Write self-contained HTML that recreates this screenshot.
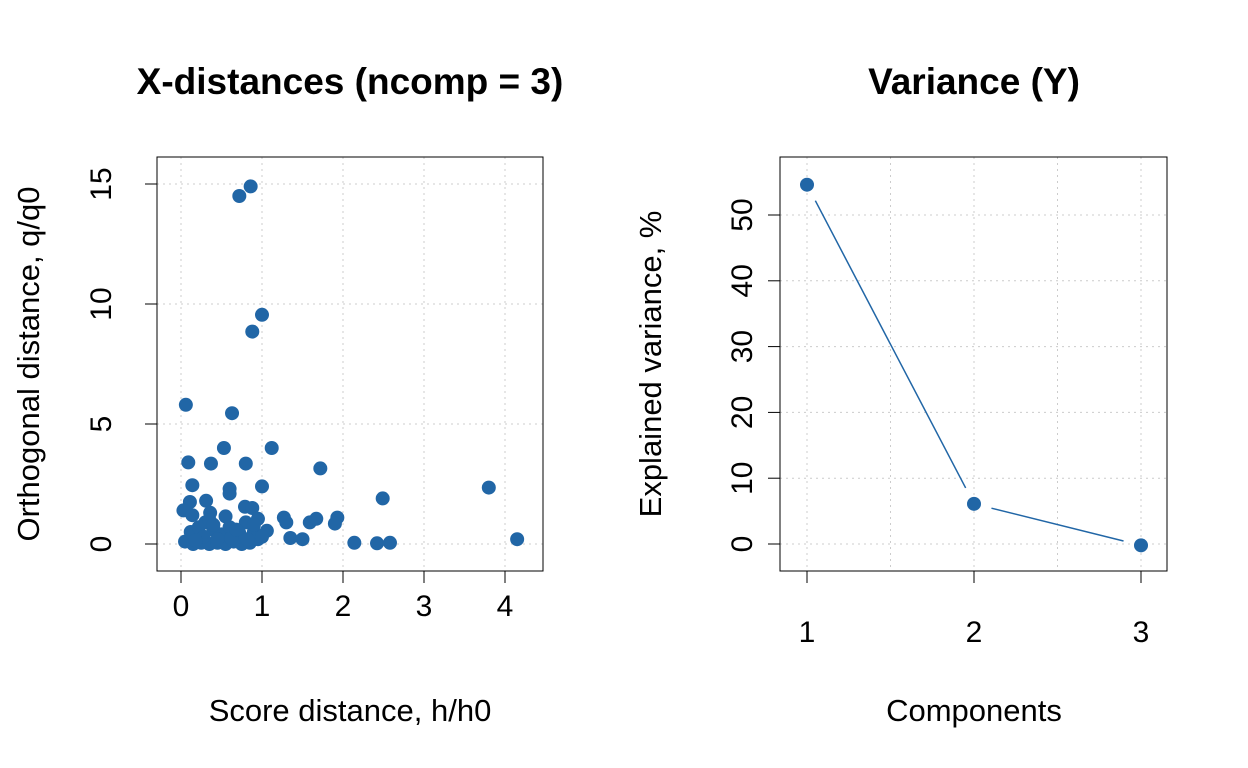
<!DOCTYPE html>
<html><head><meta charset="utf-8"><style>
html,body{margin:0;padding:0;background:#fff}
svg{display:block;font-family:"Liberation Sans",Arial,sans-serif}
</style></head><body>
<svg id="c" width="1248" height="768" xmlns="http://www.w3.org/2000/svg">
<text x="350" y="94" font-size="37" font-weight="bold" text-anchor="middle">X-distances (ncomp = 3)</text>
<text x="974" y="94" font-size="37" font-weight="bold" text-anchor="middle">Variance (Y)</text>
<text x="350" y="721" font-size="31" text-anchor="middle">Score distance, h/h0</text>
<text x="974" y="721" font-size="31" text-anchor="middle">Components</text>
<text transform="translate(39,364) rotate(-90)" font-size="31" text-anchor="middle">Orthogonal distance, q/q0</text>
<text transform="translate(661,364) rotate(-90)" font-size="31" text-anchor="middle">Explained variance, %</text>
<g id="L"></g>
<g id="R"></g>
</svg>
<script>
const scatterX=[0.72,0.86,1.0,0.88,0.06,0.63,0.53,1.12,0.09,0.37,0.8,1.72,0.14,0.6,0.6,1.0,2.49,0.11,0.31,0.03,0.14,0.36,0.55,0.79,0.88,1.27,1.3,1.59,1.67,1.93,1.9,0.95,1.06,1.35,1.5,2.14,2.42,2.58,4.15,3.8,
0.05,0.15,0.25,0.35,0.45,0.55,0.65,0.75,0.85,0.95,0.12,0.22,0.3,0.4,0.5,0.6,0.7,0.8,0.9,0.35,0.45,0.72,0.82,0.62,0.28,0.18,0.4,0.68,0.9,1.0];
const scatterY=[14.5,14.9,9.55,8.85,5.8,5.45,4.0,4.0,3.4,3.35,3.35,3.15,2.45,2.3,2.1,2.4,1.9,1.75,1.8,1.4,1.2,1.3,1.15,1.55,1.5,1.1,0.9,0.9,1.05,1.1,0.85,1.05,0.55,0.25,0.2,0.05,0.03,0.05,0.2,2.35,
0.1,0.0,0.05,0.0,0.05,0.0,0.1,0.0,0.05,0.2,0.5,0.7,0.9,0.6,0.4,0.7,0.3,0.9,0.5,1.0,0.2,0.45,0.2,0.25,0.3,0.15,0.8,0.6,0.8,0.3];
const leftXTicks=[0,1,2,3,4];
const leftYTicks=[0,5,10,15];
const components=[1,2,3];
const variance=[54.6,6.1,-0.2];
const rightYTicks=[0,10,20,30,40,50];
const rightXGrid=[1,1.5,2,2.5,3];
const NS="http://www.w3.org/2000/svg";
const col="#2166a6";
function mk(p,t,a){const e=document.createElementNS(NS,t);for(const k in a)e.setAttribute(k,a[k]);p.appendChild(e);return e;}
// left
const L=document.getElementById('L');
const lx=v=>181+v*81, ly=v=>544-v*24;
leftXTicks.forEach(t=>{const g=mk(L,'line',{x1:lx(t),x2:lx(t),y1:157,y2:571,stroke:'#ccc','stroke-dasharray':'2,4'});

const tk=mk(L,'line',{x1:lx(t),x2:lx(t),y1:571,y2:583,stroke:'#000'});
const tx=mk(L,'text',{x:lx(t),y:616,'font-size':30,'text-anchor':'middle'});tx.textContent=t;
});
leftYTicks.forEach(t=>{const g=mk(L,'line',{x1:157,x2:543,y1:ly(t),y2:ly(t),stroke:'#ccc','stroke-dasharray':'2,4'});

const tk=mk(L,'line',{x1:145,x2:157,y1:ly(t),y2:ly(t),stroke:'#000'});
const tx=mk(L,'text',{x:0,y:0,'font-size':30,'text-anchor':'middle',transform:`translate(111,${ly(t)}) rotate(-90)`});tx.textContent=t;
});
const lb=mk(L,'rect',{x:157,y:157,width:386,height:414,fill:'none',stroke:'#000'});

scatterX.forEach((v,i)=>{const c=mk(L,'circle',{cx:lx(v),cy:ly(scatterY[i]),r:7,fill:col});
});
// right
const R=document.getElementById('R');
const rx=v=>807+(v-1)*167, ry=v=>544-v*6.58;
rightXGrid.forEach(t=>{const g=mk(R,'line',{x1:rx(t),x2:rx(t),y1:157,y2:571,stroke:'#ccc','stroke-dasharray':'2,4'});
});
components.forEach(t=>{const tk=mk(R,'line',{x1:rx(t),x2:rx(t),y1:571,y2:583,stroke:'#000'});
const tx=mk(R,'text',{x:rx(t),y:642,'font-size':30,'text-anchor':'middle'});tx.textContent=t;
});
rightYTicks.forEach(t=>{const g=mk(R,'line',{x1:780,x2:1167,y1:ry(t),y2:ry(t),stroke:'#ccc','stroke-dasharray':'2,4'});

const tk=mk(R,'line',{x1:768,x2:780,y1:ry(t),y2:ry(t),stroke:'#000'});
const tx=mk(R,'text',{x:0,y:0,'font-size':30,'text-anchor':'middle',transform:`translate(752,${ry(t)}) rotate(-90)`});tx.textContent=t;
});
const rb=mk(R,'rect',{x:780,y:157,width:387,height:414,fill:'none',stroke:'#000'});

for(let i=0;i<components.length-1;i++){const x1=rx(components[i]),y1=ry(variance[i]),x2=rx(components[i+1]),y2=ry(variance[i+1]);
const d=Math.hypot(x2-x1,y2-y1),gap=18,ux=(x2-x1)/d,uy=(y2-y1)/d;
const ln=mk(R,'line',{x1:x1+ux*gap,y1:y1+uy*gap,x2:x2-ux*gap,y2:y2-uy*gap,stroke:col,'stroke-width':1.5});
}
components.forEach((v,i)=>{const c=mk(R,'circle',{cx:rx(v),cy:ry(variance[i]),r:7,fill:col});
});
</script>
</body></html>
